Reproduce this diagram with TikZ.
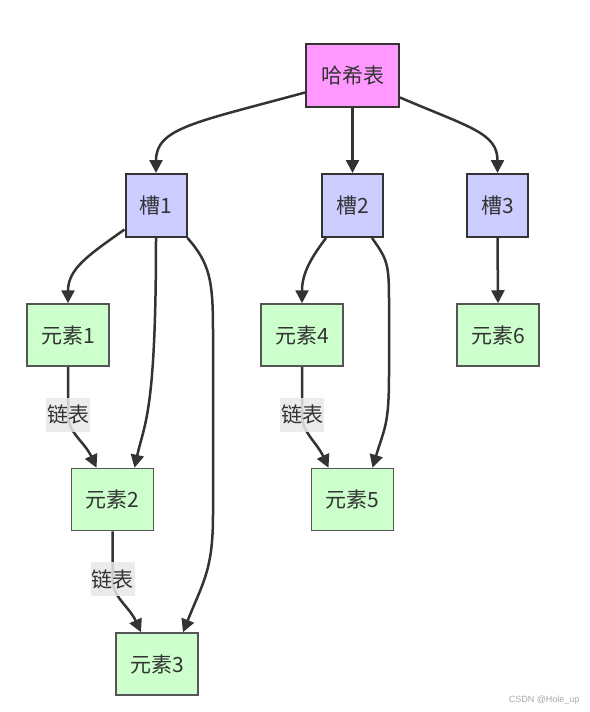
\documentclass[tikz,border=0pt]{standalone}
\usepackage{fontspec}
\setmainfont{Noto Sans CJK SC}
\newfontfamily\wmfont{Liberation Sans}
\usetikzlibrary{arrows.meta}
\definecolor{edgec}{HTML}{333333}
\definecolor{elc}{HTML}{555555}
\definecolor{hashc}{HTML}{FF99FF}
\definecolor{slotc}{HTML}{CCCCFF}
\definecolor{elemc}{HTML}{CCFFCC}
\definecolor{lblc}{HTML}{E8E8E8}
\definecolor{wmc}{HTML}{A8A8A8}
\begin{document}
\begin{tikzpicture}[x=1pt,y=-1pt,
  every node/.style={font=\fontsize{21}{25}\selectfont, text=edgec},
  hbox/.style={draw=edgec, line width=2pt, fill=hashc, minimum width=93pt, minimum height=63pt, inner sep=0pt},
  sbox/.style={draw=edgec, line width=2pt, fill=slotc, minimum width=61pt, minimum height=63pt, inner sep=0pt},
  ebox/.style={draw=elc, line width=1.5pt, fill=elemc, minimum width=82pt, minimum height=62pt, inner sep=0pt},
  edge/.style={draw=edgec, line width=2.5pt, -{Triangle[length=13pt,width=13pt]}},
  lbl/.style={fill=lblc, fill opacity=0.85, text opacity=1, minimum height=34pt, inner xsep=1pt, inner ysep=0pt},
  wm/.style={font=\wmfont\fontsize{9}{10}\selectfont, text=wmc, anchor=east}]
\useasboundingbox (0,0) rectangle (589,712);
\fill[white] (0,0) rectangle (589,712);

\node[hbox] (h) at (352.5,75.5) {哈希表};
\node[sbox] (s1) at (156,205.5) {槽1};
\node[sbox] (s2) at (352.5,205.5) {槽2};
\node[sbox] (s3) at (497.5,205.5) {槽3};
\node[ebox] (e1) at (68,335) {元素1};
\node[ebox] (e4) at (302,335) {元素4};
\node[ebox] (e6) at (498,335) {元素6};
\node[ebox] (e2) at (112.5,499.5) {元素2};
\node[ebox] (e5) at (352.5,499.5) {元素5};
\node[ebox] (e3) at (157,664) {元素3};

% hash table to slots
\draw[edge] ([yshift=-17pt]h.west) .. controls +(-110,30) and +(0,-45) .. (s1.north);
\draw[edge] (h.south) -- (s2.north);
\draw[edge] ([yshift=-22pt]h.east) .. controls +(70,30) and +(0,-40) .. (s3.north);

% slot 1
\draw[edge] ([yshift=-24pt]s1.west) .. controls +(-35,25) and +(0,-35) .. (e1.north);
\draw[edge] (s1.south) .. controls +(0,175) and +(10,-45) .. ([xshift=22pt]e2.north);
\draw[edge] (s1.south east) .. controls +(22,25) and +(0,-50) .. (213,330) -- (213,515) .. controls +(0,55) and +(20,-50) .. ([xshift=26pt]e3.north);

% slot 2
\draw[edge] ([xshift=5pt]s2.south west) .. controls +(-15,20) and +(0,-30) .. (e4.north);
\draw[edge] ([xshift=-12pt]s2.south east) .. controls +(18,25) and +(0,-55) .. (389,320) -- (389,375) .. controls +(0,50) and +(12,-40) .. ([xshift=20pt]e5.north);

% slot 3
\draw[edge] (s3.south) -- (e6.north);

% linked lists
\draw[edge] (e1.south) .. controls +(0,35) and +(0,-20) .. ++(0,48) node[lbl] {链表} .. controls +(0,18) and +(-12,-26) .. ([xshift=-16pt]e2.north);
\draw[edge] (e2.south) .. controls +(0,35) and +(0,-20) .. ++(0,48) node[lbl] {链表} .. controls +(0,18) and +(-12,-26) .. ([xshift=-16pt]e3.north);
\draw[edge] (e4.south) .. controls +(0,35) and +(0,-20) .. ++(0,48) node[lbl] {链表} .. controls +(0,18) and +(-12,-26) .. ([xshift=-24pt]e5.north);

\node[wm] (wmk) at (583,700) {CSDN @Hole\_up};
\end{tikzpicture}
\end{document}
